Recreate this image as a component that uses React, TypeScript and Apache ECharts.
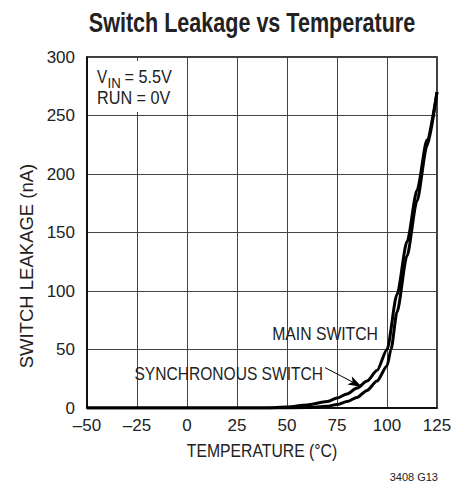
import React, { useEffect, useRef } from "react";
import * as echarts from "echarts";

const mainTemp = [-50, 0, 40, 50, 60, 70, 75, 80, 85, 90, 95, 100, 105, 110, 115, 120, 125];
const mainLeak = [0, 0, 0.1, 0.8, 2.5, 5.5, 8.5, 12, 17, 23, 32, 50, 97, 142, 186, 229, 270];

const syncTemp = [-50, 0, 50, 60, 70, 75, 80, 85, 90, 95, 100, 102, 105, 110, 115, 120, 125];
const syncLeak = [0, 0, 0, 0.4, 1.5, 3, 5.5, 9, 15, 23, 36, 50, 82, 130, 177, 224, 270];

const xTicks = [-50, -25, 0, 25, 50, 75, 100, 125];
const yTicks = [0, 50, 100, 150, 200, 250, 300];

const arrowFrom = [69, 34.5];
const arrowTo = [87.5, 18];

const FONT = '"Liberation Sans Narrow", "Liberation Sans", Arial, sans-serif';
const INK = "#222";

export default function App() {
  const ref = useRef<HTMLDivElement>(null);
  useEffect(() => {
    if (!ref.current) return;
    const chart = echarts.init(ref.current, undefined, { renderer: "svg" });
    const mainData = mainTemp.map((t, i) => [t, mainLeak[i]]);
    const syncData = syncTemp.map((t, i) => [t, syncLeak[i]]);
    const txt = (
      text: string,
      x: number,
      y: number,
      size: number,
      scaleX: number,
      align: string = "left",
      extra: any = {}
    ) => ({
      type: "text",
      x,
      y,
      scaleX,
      z: 10,
      ...extra,
      style: {
        text,
        font: `${extra.bold ? "bold " : ""}${size}px ${FONT}`,
        fill: INK,
        textAlign: align,
        textVerticalAlign: "middle",
      },
    });
    chart.setOption({
      animation: false,
      backgroundColor: "#fff",
      textStyle: { fontFamily: FONT },
      grid: {
        left: 87,
        right: 31,
        top: 57,
        bottom: 83,
        show: true,
        borderColor: "#000",
        borderWidth: 1.5,
      },
      xAxis: {
        type: "value",
        min: xTicks[0],
        max: xTicks[xTicks.length - 1],
        interval: 25,
        axisLine: { show: true, onZero: false, lineStyle: { color: "#000", width: 1.5 } },
        axisTick: { show: false },
        axisLabel: {
          fontFamily: FONT,
          fontSize: 17,
          color: INK,
          margin: 9,
          formatter: (v: number) => String(v).replace("-", "\u2013"),
        },
        splitLine: { show: true, lineStyle: { color: "#444", width: 1 } },
      },
      yAxis: {
        type: "value",
        min: yTicks[0],
        max: yTicks[yTicks.length - 1],
        interval: 50,
        axisLine: { show: true, onZero: false, lineStyle: { color: "#000", width: 1.5 } },
        axisTick: { show: false },
        axisLabel: { fontFamily: FONT, fontSize: 17, color: INK, margin: 12 },
        splitLine: { show: true, lineStyle: { color: "#444", width: 1 } },
      },
      series: [
        {
          name: "MAIN SWITCH",
          type: "line",
          data: mainData,
          showSymbol: false,
          smooth: 0.25,
          smoothMonotone: "x",
          lineStyle: { color: "#000", width: 3 },
        },
        {
          name: "SYNCHRONOUS SWITCH",
          type: "line",
          data: syncData,
          showSymbol: false,
          smooth: 0.25,
          smoothMonotone: "x",
          lineStyle: { color: "#000", width: 3 },
          markLine: {
            silent: true,
            symbol: ["none", "arrow"],
            symbolSize: [7, 14],
            label: { show: false },
            lineStyle: { color: "#000", width: 1, type: "solid" },
            data: [[{ coord: arrowFrom }, { coord: arrowTo }]],
          },
        },
      ],
      graphic: [
        txt("Switch Leakage vs Temperature", 252, 22, 28, 0.77, "center", { bold: true }),
        txt("TEMPERATURE (°C)", 262, 450, 19, 0.83, "center"),
        txt("SWITCH LEAKAGE (nA)", 26, 266, 18.5, 1, "center", { rotation: Math.PI / 2 }),
        txt("MAIN SWITCH", 378, 333, 19, 0.83, "right"),
        txt("SYNCHRONOUS SWITCH", 323, 373, 19, 0.82, "right"),
        {
          type: "rect",
          z: 9,
          shape: { x: 88.5, y: 61, width: 90, height: 51 },
          style: { fill: "#fff" },
        },
        txt("V", 97, 77, 18, 0.85),
        txt("IN", 107.5, 83, 15, 0.88),
        txt("= 5.5V", 124.5, 77, 18, 0.9),
        txt("RUN = 0V", 97, 98, 18, 0.9),
        txt("3408 G13", 438, 477, 11, 1, "right"),
      ],
    });
    return () => chart.dispose();
  }, []);
  return (
    <div
      ref={ref}
      style={{ position: "absolute", left: 0, top: 0, width: 468, height: 491 }}
    />
  );
}
